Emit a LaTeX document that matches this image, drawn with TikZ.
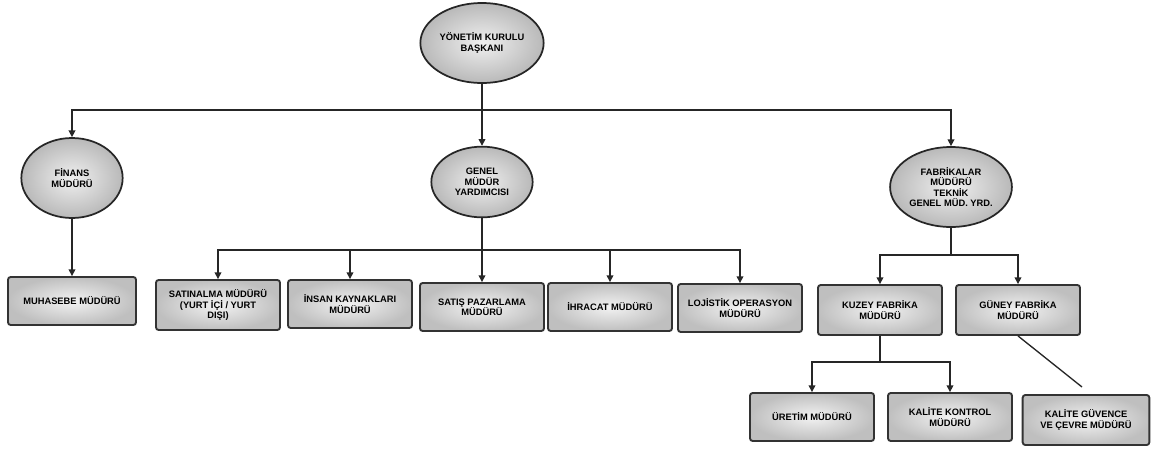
\documentclass[tikz,border=0pt]{standalone}
\usepackage{fontspec}
\setmainfont{Liberation Sans}
\usetikzlibrary{shapes.geometric,arrows.meta}
\begin{document}
\begin{tikzpicture}[x=0.75pt,y=-0.75pt,
  txt/.style={font=\fontsize{7}{7.8}\selectfont\bfseries, align=center, text=black, inner sep=1pt},
  ell/.style={txt, ellipse, draw=black!85, line width=1.3pt, inner color=gray!12, outer color=gray!55},
  box/.style={txt, rectangle, rounded corners=2pt, draw=black!80, line width=1.4pt, inner color=gray!10, outer color=gray!50, minimum width=93pt, minimum height=36pt},
  con/.style={draw=black!85, line width=1pt},
  arr/.style={con, -{Triangle[length=5pt,width=5pt]}}]
\useasboundingbox (0,0) rectangle (1156,450);
% ellipses
\node[ell, minimum width=75pt, minimum height=60pt] (top) at (482,43) {YÖNETİM KURULU\\BAŞKANI};
\node[ell, minimum width=76pt, minimum height=60pt] (lft) at (72,178) {FİNANS\\MÜDÜRÜ};
\node[ell, minimum width=76pt, minimum height=53pt] (mid) at (482,182) {GENEL\\MÜDÜR\\YARDIMCISI};
\node[ell, minimum width=76pt, minimum height=60pt] (rgt) at (951,187) {FABRİKALAR\\MÜDÜRÜ\\TEKNİK\\GENEL MÜD. YRD.};
% boxes
\node[box, minimum width=96pt] (muh) at (72,301) {MUHASEBE MÜDÜRÜ};
\node[box, minimum height=37.5pt] (b1) at (218,305) {SATINALMA MÜDÜRÜ\\(YURT İÇİ / YURT\\DIŞI)};
\node[box] (b2) at (350,304) {İNSAN KAYNAKLARI\\MÜDÜRÜ};
\node[box] (b3) at (482,307) {SATIŞ PAZARLAMA\\MÜDÜRÜ};
\node[box] (b4) at (610,307) {İHRACAT MÜDÜRÜ};
\node[box] (b5) at (740,308) {LOJİSTİK OPERASYON\\MÜDÜRÜ};
\node[box, minimum height=37.5pt] (b6) at (880,310) {KUZEY FABRİKA\\MÜDÜRÜ};
\node[box, minimum height=37.5pt] (b7) at (1018,310) {GÜNEY FABRİKA\\MÜDÜRÜ};
\node[box] (b8) at (812,417) {ÜRETİM MÜDÜRÜ};
\node[box] (b9) at (950,417) {KALİTE KONTROL\\MÜDÜRÜ};
\node[box, minimum width=95pt, minimum height=37.5pt] (b10) at (1086,420) {KALİTE GÜVENCE\\VE ÇEVRE MÜDÜRÜ};
% junctions
\coordinate (j0) at (482,110);
\coordinate (j1) at (482,250);
\coordinate (j2) at (951,255);
\coordinate (j3) at (880,362);
\coordinate (d) at (1082,387);
% connectors
\draw[arr] (top.south) -- (mid.north);
\draw[arr] (j0) -| (lft.north);
\draw[arr] (j0) -| (rgt.north);
\draw[arr] (lft.south) -- (muh.north);
\draw[con] (mid.south) -- (j1);
\draw[arr] (j1) -| (b1.north);
\draw[arr] (j1) -| (b2.north);
\draw[arr] (j1) -- (b3.north);
\draw[arr] (j1) -| (b4.north);
\draw[arr] (j1) -| (b5.north);
\draw[con] (rgt.south) -- (j2);
\draw[arr] (j2) -| (b6.north);
\draw[arr] (j2) -| (b7.north);
\draw[con] (b6.south) -- (j3);
\draw[arr] (j3) -| (b8.north);
\draw[arr] (j3) -| (b9.north);
\draw[con] (b7.south) -- (d);
\end{tikzpicture}
\end{document}
